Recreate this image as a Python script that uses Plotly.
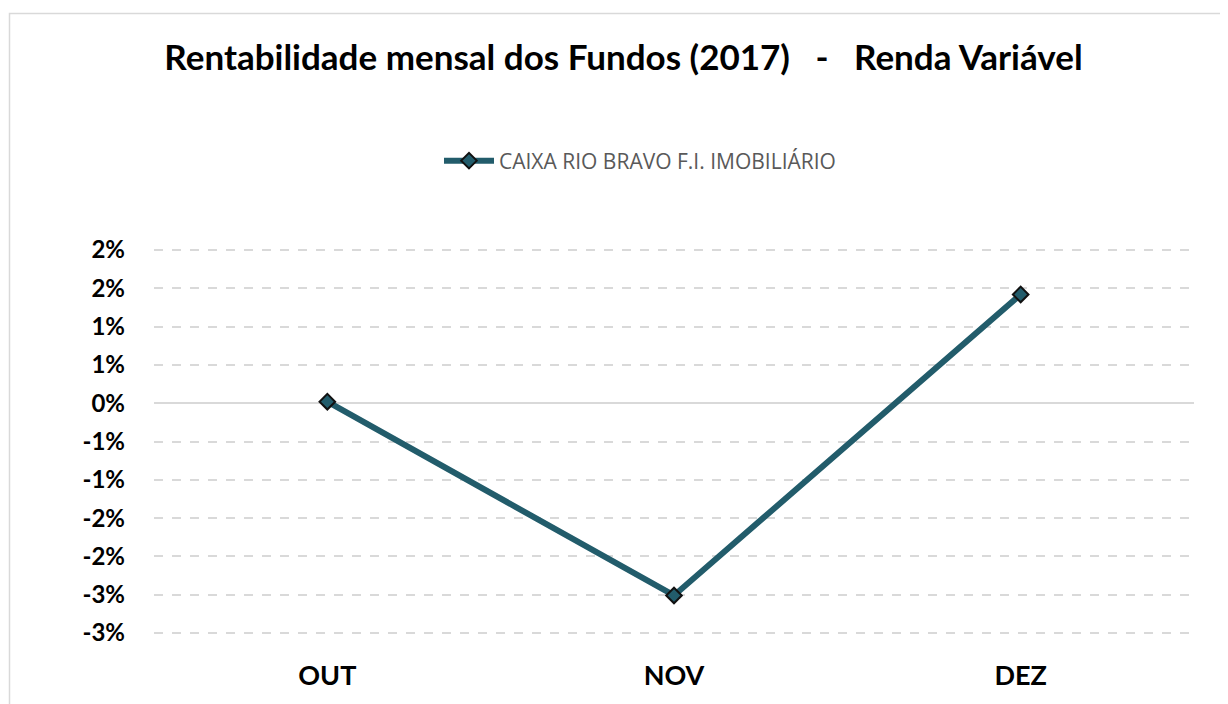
import plotly.graph_objects as go

months = ["OUT", "NOV", "DEZ"]
values = [0.0002, -0.0251, 0.0142]
series_name = "CAIXA RIO BRAVO F.I. IMOBILIÁRIO"
tick_vals = [0.02, 0.015, 0.01, 0.005, 0.0, -0.005, -0.01, -0.015, -0.02, -0.025, -0.03]
tick_text = ["2%", "2%", "1%", "1%", "0%", "-1%", "-1%", "-2%", "-2%", "-3%", "-3%"]

color = "#225C6B"
OFF = 8  # default body margin of the page
W, H = 1228 - OFF, 704 - OFF
eps = 2 / 7660.0
L, R, T, B = 154 - OFF, 34, 250 - OFF - 2, 633 - OFF
B = H - B - 2
pw, ph = W - L - R, H - T - B

fig = go.Figure()
fig.add_trace(go.Scatter(
    x=months, y=values, mode="lines+markers", name=series_name,
    line=dict(color=color, width=6),
    marker=dict(symbol="diamond", size=12, color=color, line=dict(color="#111111", width=2)),
))

def px_x(p):
    return (p - OFF - L) / pw

def px_y(p):
    return (H - B - (p - OFF)) / ph

fig.update_layout(
    width=W, height=H,
    margin=dict(l=L, r=R, t=T, b=B),
    paper_bgcolor="white", plot_bgcolor="white",
    title=dict(text="<b>Rentabilidade mensal dos Fundos (2017)   -   Renda Variável</b>",
               x=(623.5 - OFF) / W, xanchor="center", xref="container",
               y=1 - (58 - OFF) / H, yanchor="middle", yref="container",
               font=dict(family="Lato, Open Sans, sans-serif", size=35, color="black")),
    showlegend=True,
    legend=dict(orientation="h", x=px_x(640), xanchor="center", y=px_y(161), yanchor="middle",
                font=dict(family="Open Sans, sans-serif", size=21, color="#595959"),
                itemwidth=50, bgcolor="rgba(0,0,0,0)"),
    xaxis=dict(type="category", range=[-0.5, 2.5], showgrid=False, showline=False, zeroline=False,
               ticks="", ticklabelstandoff=22,
               tickfont=dict(family="Lato, sans-serif", size=27, color="black"),
               tickprefix="<b>", ticksuffix="</b>"),
    yaxis=dict(range=[-0.03 - eps, 0.02 + eps], tickvals=tick_vals,
               ticktext=["<b>" + t + "</b>" for t in tick_text],
               showgrid=True, gridcolor="#D9D9D9", griddash="dash", gridwidth=1.5,
               zeroline=True, zerolinecolor="#D9D9D9", zerolinewidth=2,
               showline=False, ticks="", ticklabelstandoff=28,
               tickfont=dict(family="Lato, sans-serif", size=24, color="black")),
    shapes=[dict(type="rect", xref="paper", yref="paper",
                 x0=px_x(9.5), x1=px_x(1226), y0=px_y(720), y1=px_y(13.5),
                 line=dict(color="#D9D9D9", width=1.5), fillcolor="rgba(0,0,0,0)", layer="below")],
)

fig.write_html("out.html")
